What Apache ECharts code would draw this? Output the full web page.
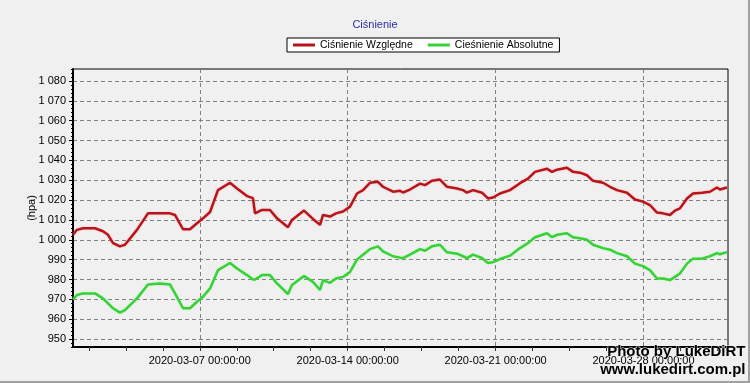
<!DOCTYPE html>
<html>
<head>
<meta charset="utf-8">
<script src="https://cdn.jsdelivr.net/npm/echarts@6/dist/echarts.min.js"></script>
<style>
html,body{margin:0;padding:0;background:#f0f0f0;}
#chart{width:750px;height:383px;}
</style>
</head>
<body>
<div id="chart"></div>
<script>
const times = [
'2020-03-01 00:00','2020-03-01 04:30','2020-03-01 11:20','2020-03-02 01:00','2020-03-02 10:00','2020-03-02 15:45',
'2020-03-02 21:30','2020-03-03 05:20','2020-03-03 11:00','2020-03-04 00:40','2020-03-04 13:10','2020-03-05 02:50',
'2020-03-05 14:10','2020-03-05 19:50','2020-03-06 05:00','2020-03-06 12:50','2020-03-06 20:50','2020-03-07 03:40',
'2020-03-07 11:40','2020-03-07 20:40','2020-03-08 10:20','2020-03-08 18:15','2020-03-09 05:40','2020-03-09 12:25',
'2020-03-09 14:45','2020-03-09 22:40','2020-03-10 07:45','2020-03-10 15:45','2020-03-11 04:10','2020-03-11 08:45',
'2020-03-11 22:25','2020-03-12 08:35','2020-03-12 16:35','2020-03-12 20:00','2020-03-13 03:55','2020-03-13 10:45',
'2020-03-13 18:40','2020-03-14 02:40','2020-03-14 10:35','2020-03-14 17:25','2020-03-15 01:20','2020-03-15 10:25',
'2020-03-15 16:05','2020-03-16 03:30','2020-03-16 11:25','2020-03-16 14:50','2020-03-16 22:45','2020-03-17 10:10',
'2020-03-17 15:50','2020-03-17 23:45','2020-03-18 08:50','2020-03-18 16:50','2020-03-19 04:10','2020-03-19 11:00',
'2020-03-19 15:30','2020-03-19 22:20','2020-03-20 08:35','2020-03-20 15:20','2020-03-20 21:05','2020-03-21 05:00',
'2020-03-21 16:20','2020-03-22 03:45','2020-03-22 12:50','2020-03-22 20:45','2020-03-23 10:25','2020-03-23 16:05',
'2020-03-23 21:45','2020-03-24 09:05','2020-03-24 15:55','2020-03-24 23:50','2020-03-25 07:50','2020-03-25 14:40',
'2020-03-26 02:00','2020-03-26 09:55','2020-03-26 17:55','2020-03-27 05:15','2020-03-27 14:20','2020-03-27 23:25',
'2020-03-28 07:20','2020-03-28 15:20','2020-03-28 22:10','2020-03-29 06:05','2020-03-29 11:45','2020-03-29 17:25',
'2020-03-30 01:25','2020-03-30 08:15','2020-03-30 18:25','2020-03-31 03:30','2020-03-31 11:30','2020-03-31 14:50',
'2020-03-31 22:50'
];
const relative = [
1002.5,1005,1005.8,1005.8,1004.3,1002.5,
998.3,996.7,997.5,1005,1013.3,1013.3,
1013.3,1012.5,1005.3,1005.3,1008.3,1010.8,
1014,1025,1028.7,1025.8,1022,1021,
1013.3,1015,1015,1010.8,1006.3,1010,
1014.7,1010.5,1007.5,1012.5,1011.7,1013.3,
1014.2,1016.7,1023.3,1025,1028.7,1029.2,
1026.7,1024.2,1024.7,1023.8,1025.3,1028.3,
1027.5,1029.7,1030.3,1026.7,1025.8,1025,
1023.7,1025,1023.7,1020.8,1021.3,1023.3,
1025,1028.5,1030.8,1034.2,1035.8,1034.2,
1035.3,1036.3,1034.2,1033.8,1032.5,1029.7,
1028.7,1026.7,1025,1023.7,1020.3,1019.2,
1017.5,1013.7,1013.3,1012.5,1014.7,1015.8,
1020.8,1023.3,1023.7,1024.2,1026.3,1025.3,
1026.3
];
const absolute = [
970,972.2,973,973,970.5,968,
965.5,963.3,964.6,970.5,977.5,978,
977.5,973,965.5,965.5,968.8,971.3,
975.5,984.7,988.3,985.5,982.2,980,
980,982.2,982.2,978,972.7,977.2,
981.7,978.8,974.7,979.7,978.3,980.5,
981.3,983.8,990,992.5,995.3,996.7,
994.2,991.7,991,990.8,992.5,995.3,
994.5,996.7,997.5,993.7,993,991.7,
990.8,992.5,990.8,988.3,988.7,990.3,
992,995.8,998.3,1001.3,1003.3,1001.3,
1002.5,1003.3,1001.3,1000.8,1000,997.5,
995.8,995,993.3,991.7,988,986.7,
984.7,980.5,980.5,979.7,981.3,983,
988,990.5,990.5,991.7,993.3,992.7,
993.8
];
const yTickValues = [950,960,970,980,990,1000,1010,1020,1030,1040,1050,1060,1070,1080];
const xLabelTimes = ['2020-03-07 00:00','2020-03-14 00:00','2020-03-21 00:00','2020-03-28 00:00'];
const xTickTimes = [
'2020-03-01 18:00','2020-03-03 12:00','2020-03-05 06:00','2020-03-07 00:00','2020-03-08 18:00','2020-03-10 12:00',
'2020-03-12 06:00','2020-03-14 00:00','2020-03-15 18:00','2020-03-17 12:00','2020-03-19 06:00','2020-03-21 00:00',
'2020-03-22 18:00','2020-03-24 12:00','2020-03-26 06:00','2020-03-28 00:00','2020-03-29 18:00','2020-03-31 12:00'
];
const seriesNames = ['Ciśnienie Względne','Cieśnienie Absolutne'];

function ts(s){ return new Date(s.replace(' ','T')).getTime(); }
function pad(n){ return (n<10?'0':'')+n; }
function fmtTime(v){
  const d = new Date(v);
  return d.getFullYear()+'-'+pad(d.getMonth()+1)+'-'+pad(d.getDate())+' '+pad(d.getHours())+':'+pad(d.getMinutes())+':'+pad(d.getSeconds());
}
function fmtNum(v){ return String(v).replace(/\B(?=(\d{3})+(?!\d))/g,' '); }

const xMin = ts('2020-03-01 00:00'), xMax = ts('2020-04-01 00:00');
const font = 'Liberation Sans, Arial, sans-serif';
const redColor = '#b8141c', greenColor = '#38d038';

const chart = echarts.init(document.getElementById('chart'), null, {renderer:'canvas'});
chart.setOption({
  animation:false,
  backgroundColor:'#f0f0f0',
  title:{text:'Ciśnienie', left:'center', top:14, textStyle:{color:'#2b2ba6', fontSize:11, fontWeight:'normal', fontFamily:font}},
  legend:{
    data:seriesNames, left:287, top:38, itemWidth:22, itemHeight:3, itemGap:15, icon:'rect',
    padding:[1,6,1,6], backgroundColor:'#ffffff', borderColor:'#000', borderWidth:1,
    textStyle:{fontSize:10.5, color:'#000', fontFamily:font, lineHeight:12}
  },
  grid:{left:73, right:22, top:69, bottom:36, show:true, borderColor:'#000', borderWidth:1, backgroundColor:'transparent'},
  xAxis:[
    {type:'value', min:xMin, max:xMax, position:'bottom', scale:true,
     axisLine:{show:true, lineStyle:{color:'#000', width:2}},
     axisTick:{show:false, customValues:xLabelTimes.map(ts)},
     axisLabel:{customValues:xLabelTimes.map(ts), formatter:fmtTime, color:'#000', fontSize:11, fontFamily:font, margin:8, hideOverlap:false},
     splitLine:{show:true, lineStyle:{color:'#808080', type:[4,3], width:1}}},
    {type:'value', min:xMin, max:xMax, position:'bottom', scale:true,
     axisLine:{show:false},
     axisTick:{show:true, length:4, customValues:xTickTimes.map(ts), lineStyle:{color:'#333'}},
     axisLabel:{show:false},
     splitLine:{show:false}}
  ],
  yAxis:[
    {type:'value', min:946, max:1086, position:'left',
     name:'(hpa)', nameLocation:'middle', nameRotate:90, nameGap:36, nameMoveOverlap:false,
     nameTextStyle:{color:'#000', fontSize:11, fontFamily:font},
     axisLine:{show:true, lineStyle:{color:'#000', width:2}},
     axisTick:{show:true, length:4, customValues:yTickValues, lineStyle:{color:'#000'}},
     axisLabel:{customValues:yTickValues, formatter:fmtNum, color:'#000', fontSize:11, fontFamily:font, margin:7},
     splitLine:{show:true, lineStyle:{color:'#808080', type:[4,3], width:1}}},
    {type:'value', min:946, max:1086, interval:2, position:'left',
     axisLine:{show:false},
     axisTick:{show:true, length:2, lineStyle:{color:'#000'}},
     axisLabel:{show:false},
     splitLine:{show:false}}
  ],
  series:[
    {name:seriesNames[0], type:'line', symbol:'none', xAxisIndex:0, yAxisIndex:0,
     data:times.map((t,i)=>[ts(t), relative[i]]),
     lineStyle:{color:redColor, width:2.5, shadowColor:'rgba(255,140,140,0.5)', shadowBlur:2},
     itemStyle:{color:redColor}},
    {name:seriesNames[1], type:'line', symbol:'none', xAxisIndex:0, yAxisIndex:0,
     data:times.map((t,i)=>[ts(t), absolute[i]]),
     lineStyle:{color:greenColor, width:2.5, shadowColor:'rgba(140,255,140,0.5)', shadowBlur:2},
     itemStyle:{color:greenColor}}
  ],
  graphic:[
    {type:'text', right:4, top:344, z:100, style:{text:'Photo by LukeDiRT', font:'bold 15px '+font, fill:'#000', stroke:'#f0f0f0', lineWidth:1}},
    {type:'text', right:4, top:362, z:100, style:{text:'www.lukedirt.com.pl', font:'bold 15px '+font, fill:'#000', stroke:'#f0f0f0', lineWidth:1}},
    {type:'rect', left:0, top:381, z:100, shape:{width:750, height:2}, style:{fill:'#a0a0a0'}},
    {type:'rect', left:748, top:0, z:100, shape:{width:2, height:383}, style:{fill:'#a0a0a0'}}
  ]
});
</script>
</body>
</html>
